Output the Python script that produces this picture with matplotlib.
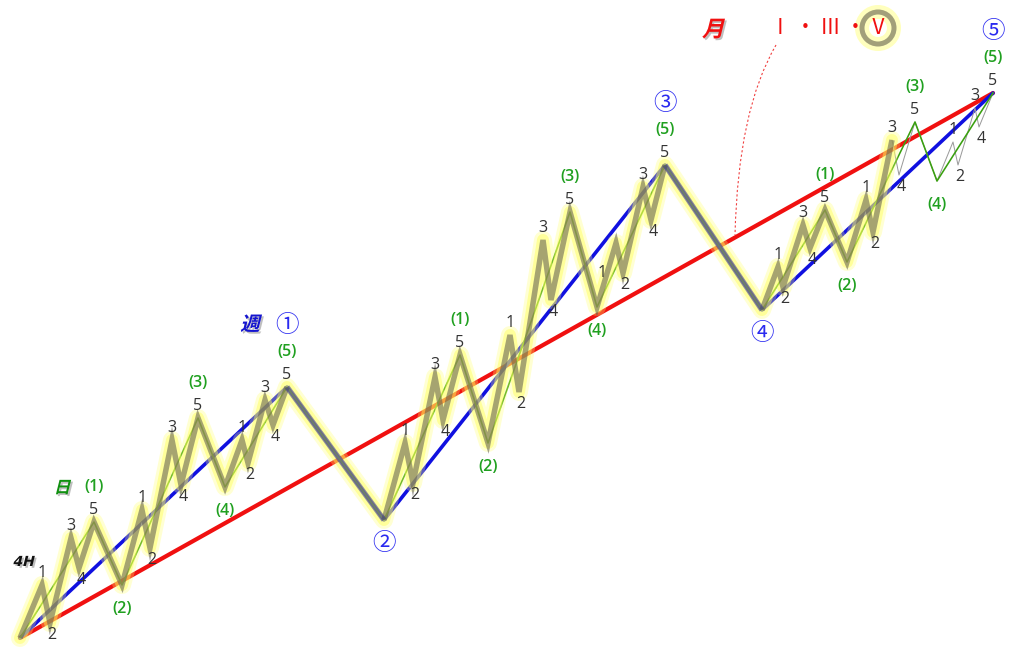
"""
Elliott wave fractal: 4H / daily / weekly / monthly waves nested in one impulse.
Saves out.png (1024x652).
"""
import numpy as np
import matplotlib
matplotlib.use("Agg")
import matplotlib.pyplot as plt
from matplotlib.patches import Circle, PathPatch
from matplotlib.path import Path
from matplotlib.patheffects import AbstractPathEffect
from matplotlib.transforms import Affine2D

plt.rcParams["font.family"] = ["Noto Sans CJK JP", "DejaVu Sans"]
LATIN = ["Open Sans", "DejaVu Sans"]

W, H = 1024, 652

# pivot points of the 4H wave path (time, price)
TIME = [20, 42, 50, 71, 79, 94, 122, 142, 150, 172, 181, 198, 225, 242, 248, 265, 273, 287,
        384, 405, 413, 435, 443, 460, 488, 510, 519, 543, 551, 570, 597, 616, 623, 643, 651, 665,
        762, 778, 783, 803, 810, 825, 847, 866, 873, 892, 899, 915, 937, 953, 958, 975, 979, 993]
PRICE_PX = [638, 585, 623, 538, 568, 522, 585, 510, 548, 440, 485, 418, 487, 440, 463, 400, 425, 387,
            520, 443, 483, 377, 420, 355, 443, 335, 392, 240, 300, 212, 307, 243, 273, 187, 220, 165,
            310, 267, 287, 225, 248, 210, 262, 200, 232, 140, 175, 122, 181, 142, 165, 108, 127, 93]
PRICE = [H - p for p in PRICE_PX]

SUB_LABELS = ["", "1", "2", "3", "4", "5", "", "1", "2", "3", "4", "5", "", "1", "2", "3", "4", "5",
              "", "1", "2", "3", "4", "5", "", "1", "2", "3", "4", "5", "", "1", "2", "3", "4", "5",
              "", "1", "2", "3", "4", "5", "", "1", "2", "3", "4", "5", "", "1", "2", "3", "4", "5"]

DAILY_IDX = [0, 5, 6, 11, 12, 17, 18, 23, 24, 29, 30, 35, 36, 41, 42, 47, 48, 53]
DAILY_LABELS = {5: "(1)", 6: "(2)", 11: "(3)", 12: "(4)", 17: "(5)",
                23: "(1)", 24: "(2)", 29: "(3)", 30: "(4)", 35: "(5)",
                41: "(1)", 42: "(2)", 47: "(3)", 48: "(4)", 53: "(5)"}
WEEKLY_IDX = [0, 17, 18, 35, 36, 53]
WEEKLY_LABELS = {17: "①", 18: "②", 35: "③", 36: "④", 53: "⑤"}
WEEKLY_CORRECTIONS = [(17, 18), (35, 36)]
MONTHLY_IDX = [0, 53]
THICK_END = 45          # the highlighted 4H path stops at 3 of the last (3)

MONTH_MARKS = ["Ⅰ", "・", "Ⅲ", "・", "Ⅴ"]
MONTH_MARK_X = [780, 805, 830, 855, 878]
MONTH_Y = H - 28
CURVE_PTS = [(776, H - 45), (738, H - 110), (735, H - 235)]

RED = "#f01010"
BLUE = "#1010e0"
GREEN = "#3aa010"
GREEN_TXT = "#20a020"
NUM_TXT = "#333333"


class Oblique(AbstractPathEffect):
    """Slant glyphs (fake italic) and drop a soft grey shadow."""

    def __init__(self, shear=14, shadow=(1.3, -1.3), alpha=0.45):
        super().__init__()
        self._shear = shear
        self._shadow = shadow
        self._alpha = alpha

    def draw_path(self, renderer, gc, tpath, affine, rgbFace=None):
        skew = Affine2D().skew_deg(self._shear, 0)
        gc0 = renderer.new_gc()
        gc0.copy_properties(gc)
        gc0.set_foreground("none")
        gc0.set_alpha(self._alpha)
        gc0.set_linewidth(0)
        off = Affine2D().translate(renderer.points_to_pixels(self._shadow[0]),
                                   renderer.points_to_pixels(self._shadow[1]))
        renderer.draw_path(gc0, tpath, skew + affine + off, (0.45, 0.45, 0.45))
        gc0.restore()
        renderer.draw_path(gc, tpath, skew + affine, rgbFace)


def px(v):
    return v * 72.0 / 100.0


def main():
    fig = plt.figure(figsize=(W / 100, H / 100), dpi=100)
    ax = fig.add_axes([0, 0, 1, 1])
    ax.set_xlim(0, W)
    ax.set_ylim(0, H)
    ax.axis("off")

    t = np.array(TIME, dtype=float)
    p = np.array(PRICE, dtype=float)

    # monthly, weekly, daily
    ax.plot(t[MONTHLY_IDX], p[MONTHLY_IDX], color=RED, lw=px(4.2), zorder=1, solid_capstyle="round")
    ax.plot(t[WEEKLY_IDX], p[WEEKLY_IDX], color=BLUE, lw=px(3.6), zorder=2, solid_capstyle="round")
    ax.plot(t[DAILY_IDX], p[DAILY_IDX], color=GREEN, lw=px(1.6), zorder=3)

    # 4H: thin tail
    ax.plot(t[THICK_END:], p[THICK_END:], color="#9a9a9a", lw=px(1.0), zorder=2.5)

    # 4H: highlighted thick path with yellow glow
    tt, pp = t[:THICK_END + 1], p[:THICK_END + 1]
    ax.plot(tt, pp, color="#ffff70", lw=px(18), alpha=0.3, zorder=4,
            solid_joinstyle="round", solid_capstyle="round")
    ax.plot(tt, pp, color="#ffff55", lw=px(12), alpha=0.45, zorder=4.1,
            solid_joinstyle="round", solid_capstyle="round")

    # olive 4H pieces, bluish-grey weekly corrections
    start = 0
    for a, b in WEEKLY_CORRECTIONS + [(THICK_END, None)]:
        ax.plot(tt[start:a + 1], pp[start:a + 1], color="#5e5a4e", lw=px(5.5), alpha=0.55,
                zorder=5, solid_joinstyle="miter", solid_capstyle="butt")
        start = b
    for a, b in WEEKLY_CORRECTIONS:
        ax.plot(t[[a, b]], p[[a, b]], color="#30308c", lw=px(5.5), alpha=0.52, zorder=5,
                solid_capstyle="butt")

    # wave labels
    for i, lab in enumerate(SUB_LABELS):
        if not lab:
            continue
        trough = lab in ("2", "4")
        dx, dy = (2, -12) if trough else (0, 12)
        if i == 31:
            dx, dy = -14, -30
        ax.annotate(lab, (t[i], p[i]), xytext=(px(dx), px(dy)), textcoords="offset points",
                    ha="center", va="center", fontsize=11.5, color=NUM_TXT, family=LATIN,
                    zorder=8)
    for i, lab in DAILY_LABELS.items():
        trough = lab in ("(2)", "(4)")
        dy = -24 if trough else 35
        ax.annotate(lab, (t[i], p[i]), xytext=(0, px(dy)), textcoords="offset points",
                    ha="center", va="center", fontsize=11.5, color=GREEN_TXT, family=LATIN,
                    fontweight="semibold", zorder=8)
    for i, lab in WEEKLY_LABELS.items():
        trough = lab in ("②", "④")
        dy = -23 if trough else 62
        ax.annotate(lab, (t[i], p[i]), xytext=(0, px(dy)), textcoords="offset points",
                    ha="center", va="center", fontsize=17, color="#2a2af0", zorder=8)

    # time frame names
    ax.text(23, H - 562, "4H", fontsize=10, fontweight="bold", color="#111111", ha="center",
            va="center", family="DejaVu Sans", path_effects=[Oblique()], zorder=8)
    ax.text(62, H - 488, "日", fontsize=12, fontweight="bold", color="#109010", ha="center",
            va="center", path_effects=[Oblique()], zorder=8)
    ax.text(250, H - 325, "週", fontsize=14, fontweight="bold", color="#1515d0", ha="center",
            va="center", path_effects=[Oblique()], zorder=8)
    ax.text(713, H - 30, "月", fontsize=16, fontweight="bold", color="#f01010", ha="center",
            va="center", path_effects=[Oblique()], zorder=8)

    # monthly I - III - V
    for x, lab in zip(MONTH_MARK_X, MONTH_MARKS):
        ax.text(x, MONTH_Y, lab, fontsize=15, color="#f01010", ha="center", va="center", zorder=9)
    cx = MONTH_MARK_X[-1]
    ax.add_patch(Circle((cx, MONTH_Y), 16, fill=False, ec="#ffff70", lw=px(14), alpha=0.45, zorder=7))
    ax.add_patch(Circle((cx, MONTH_Y), 16, fill=False, ec="#a2a07a", lw=px(5), zorder=7.5))

    curve = Path(CURVE_PTS, [Path.MOVETO, Path.CURVE3, Path.CURVE3])
    ax.add_patch(PathPatch(curve, fill=False, ec="#f04040", lw=0.8, ls=(0, (2, 2)), zorder=1))

    fig.savefig("out.png", dpi=100)


if __name__ == "__main__":
    main()
